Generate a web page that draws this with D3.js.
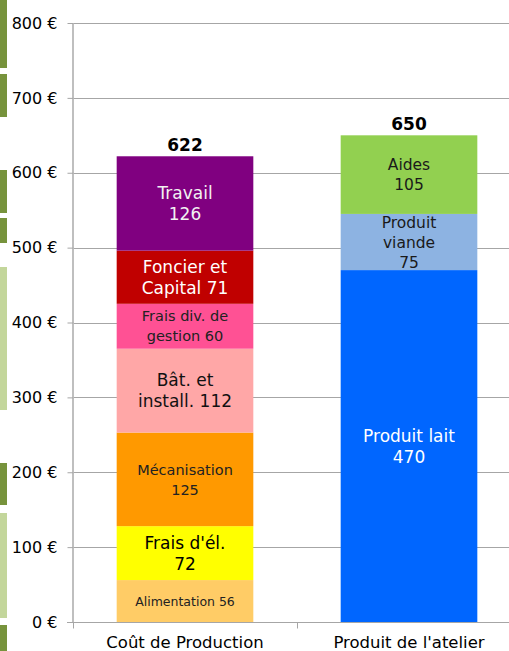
<!DOCTYPE html>
<html>
<head>
<meta charset="utf-8">
<script src="https://cdn.jsdelivr.net/npm/d3@7"></script>
<style>
  html, body { margin: 0; padding: 0; background: #fff; }
  svg { display: block; font-family: "DejaVu Sans", Verdana, sans-serif; }
</style>
</head>
<body>
<svg id="chart" width="509" height="651"></svg>
<script>
// ---- data ----
const categories = ["Coût de Production", "Produit de l'atelier"];
const coutSegments = ["Alimentation", "Frais d'él.", "Mécanisation", "Bât. et install.", "Frais div. de gestion", "Foncier et Capital", "Travail"];
const coutValues = [56, 72, 125, 112, 60, 71, 126];
const coutLabels = [["Alimentation 56"], ["Frais d'él.", "72"], ["Mécanisation", "125"], ["Bât. et", "install. 112"], ["Frais div. de", "gestion 60"], ["Foncier et", "Capital 71"], ["Travail", "126"]];
const produitSegments = ["Produit lait", "Produit viande", "Aides"];
const produitValues = [470, 75, 105];
const produitLabels = [["Produit lait", "470"], ["Produit", "viande", "75"], ["Aides", "105"]];
const totals = [622, 650];
const yTicks = [0, 100, 200, 300, 400, 500, 600, 700, 800];

// ---- styles ----
const coutColors = ["#FFCC66", "#FFFF00", "#FF9900", "#FFA7A7", "#FF5194", "#C00000", "#800080"];
const coutText = ["#222", "#000", "#222", "#111", "#222", "#fff", "#f2f2f2"];
const coutFont = [12.5, 17, 14.5, 17, 14.5, 17, 17];
const produitColors = ["#0066FF", "#8DB3E2", "#92D050"];
const produitText = ["#fff", "#1a1a1a", "#1a1a1a"];
const produitFont = [17, 15.5, 15.5];

const svg = d3.select("#chart");

// decorative slide fragments on the left edge
const darkG = "#77933C", lightG = "#C3D69B";
const frags = [
  {y0: 0, y1: 68, c: darkG}, {y0: 74, y1: 117, c: darkG}, {y0: 170, y1: 213, c: darkG},
  {y0: 218, y1: 243, c: darkG}, {y0: 267, y1: 410, c: lightG}, {y0: 463, y1: 505, c: darkG},
  {y0: 513, y1: 618, c: lightG}, {y0: 625, y1: 651, c: darkG}
];
svg.append("g").selectAll("rect").data(frags).join("rect")
  .attr("x", 0).attr("y", d => d.y0).attr("width", 7).attr("height", d => d.y1 - d.y0).attr("fill", d => d.c);

// ---- scales ----
const plotL = 73, plotR = 521, plotT = 23, plotB = 622;
const x = d3.scaleBand().domain(categories).range([plotL, plotR]).paddingInner(0.39).paddingOuter(0.195);
const y = d3.scaleLinear().domain([0, 800]).range([plotB, plotT]);

// gridlines
svg.append("g").selectAll("line").data(yTicks.filter(d => d > 0)).join("line")
  .attr("x1", plotL).attr("x2", plotR).attr("y1", d => Math.round(y(d)) + 0.5).attr("y2", d => Math.round(y(d)) + 0.5)
  .attr("stroke", "#A6A6A6").attr("stroke-width", 1);

// y axis
const yAxis = svg.append("g").attr("transform", `translate(${plotL + 0.5},0)`)
  .call(d3.axisLeft(y).tickValues(yTicks).tickFormat(d => d + " €").tickSize(6).tickPadding(10));
yAxis.select(".domain").attr("stroke", "#BFBFBF").attr("d", `M-0.5,${plotT}V${plotB}`).attr("stroke-width", 2);
yAxis.selectAll(".tick line").attr("stroke", "#A6A6A6");
yAxis.selectAll(".tick text").style("font-size", "16px").attr("fill", "#000").style("font-family", "'DejaVu Sans', Verdana, sans-serif");

// stacked bars
function drawStack(cat, values, labels, colors, textColors, fonts) {
  let acc = 0;
  const segs = values.map((v, i) => { const s = {y0: acc, y1: acc + v, i}; acc += v; return s; });
  const g = svg.append("g");
  g.selectAll("rect").data(segs).join("rect")
    .attr("x", x(cat)).attr("width", x.bandwidth())
    .attr("y", d => y(d.y1)).attr("height", d => y(d.y0) - y(d.y1))
    .attr("fill", d => colors[d.i]);
  segs.forEach(s => {
    const lines = labels[s.i];
    const fs = fonts[s.i];
    const lh = Math.max(fs * 1.25, 20);
    const cy = (y(s.y0) + y(s.y1)) / 2;
    const t = g.append("text").attr("text-anchor", "middle").attr("fill", textColors[s.i]).style("font-size", fs + "px");
    lines.forEach((ln, k) => {
      t.append("tspan").attr("x", x(cat) + x.bandwidth() / 2)
        .attr("y", cy + (k - (lines.length - 1) / 2) * lh + fs * 0.36).text(ln);
    });
  });
}
drawStack(categories[0], coutValues, coutLabels, coutColors, coutText, coutFont);
drawStack(categories[1], produitValues, produitLabels, produitColors, produitText, produitFont);

// totals
svg.append("g").selectAll("text").data(totals).join("text")
  .attr("x", (d, i) => x(categories[i]) + x.bandwidth() / 2)
  .attr("y", d => y(d) - 5)
  .attr("text-anchor", "middle").style("font-size", "17px").style("font-weight", "bold").attr("fill", "#000")
  .text(d => d);

// x axis
const xAxis = svg.append("g").attr("transform", `translate(0,${plotB + 0.5})`)
  .call(d3.axisBottom(x).tickSize(0).tickPadding(14));
xAxis.select(".domain").remove();
xAxis.append("line").attr("x1", plotL - 6).attr("x2", plotR).attr("y1", 0).attr("y2", 0).attr("stroke", "#A6A6A6");
const bounds = [plotL, (x(categories[0]) + x.bandwidth() + x(categories[1])) / 2];
xAxis.selectAll(".sep").data(bounds).join("line").attr("class", "sep")
  .attr("x1", d => Math.round(d) + 0.5).attr("x2", d => Math.round(d) + 0.5).attr("y1", 0).attr("y2", 6).attr("stroke", "#A6A6A6");
xAxis.selectAll(".tick text").style("font-size", "16.5px").attr("fill", "#000").style("font-family", "'DejaVu Sans', Verdana, sans-serif");
</script>
</body>
</html>
